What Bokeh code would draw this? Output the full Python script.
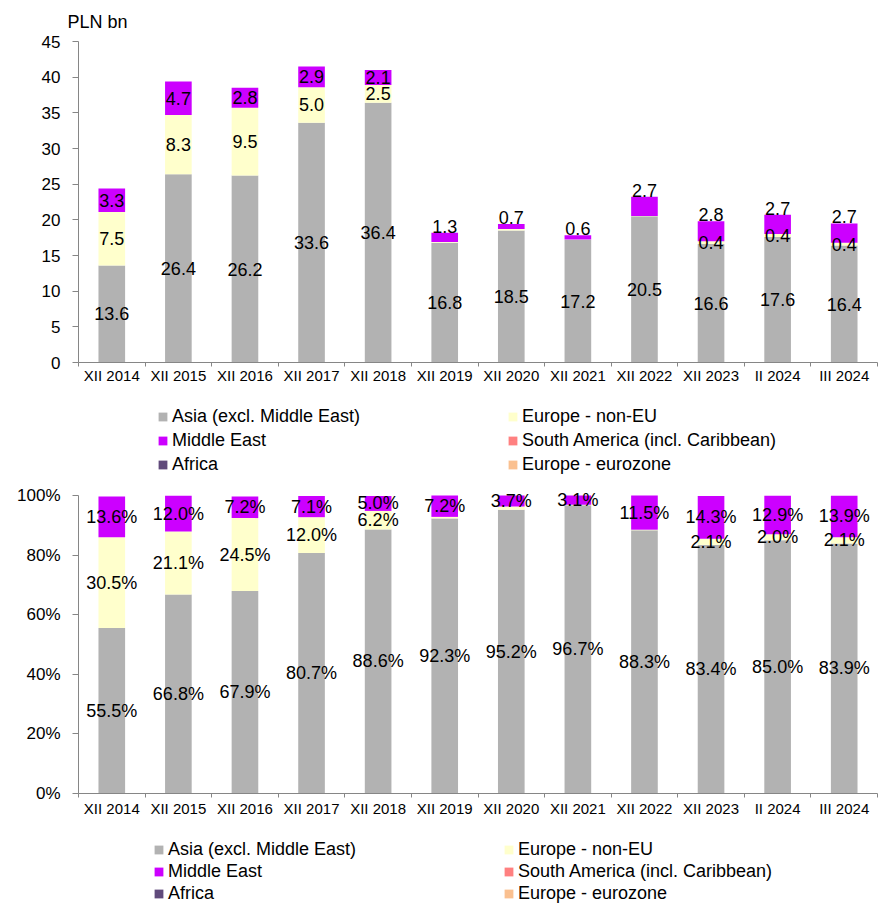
from bokeh.plotting import figure
from bokeh.models import (ColumnDataSource, Range1d, FixedTicker, SingleIntervalTicker,
                          Legend, LegendItem, PrintfTickFormatter)
from bokeh.layouts import column
from bokeh.embed import file_html
from bokeh.resources import INLINE
from bokeh.core.properties import value

# ---------------- data ----------------
categories = ["XII 2014", "XII 2015", "XII 2016", "XII 2017", "XII 2018", "XII 2019",
              "XII 2020", "XII 2021", "XII 2022", "XII 2023", "II 2024", "III 2024"]

series_names = ["Asia (excl. Middle East)", "Europe - non-EU", "Middle East",
                "South America (incl. Caribbean)", "Africa", "Europe - eurozone"]
series_colors = ["#b2b2b2", "#ffffcc", "#cc00ff", "#ff8080", "#604a7b", "#fac090"]

# PLN bn
asia_bn = [13.6, 26.4, 26.2, 33.6, 36.4, 16.8, 18.5, 17.2, 20.5, 16.6, 17.6, 16.4]
eu_non_bn = [7.5, 8.3, 9.5, 5.0, 2.5, 0.1, 0.2, 0.04, 0.04, 0.4, 0.4, 0.4]
me_bn = [3.3, 4.7, 2.8, 2.9, 2.1, 1.3, 0.7, 0.6, 2.7, 2.8, 2.7, 2.7]
sa_bn = [0, 0, 0, 0, 0, 0, 0, 0, 0, 0, 0, 0]
africa_bn = [0, 0, 0, 0, 0, 0, 0, 0, 0, 0, 0, 0]
euro_bn = [0, 0, 0, 0, 0, 0, 0, 0, 0, 0, 0, 0]

# shares, %
asia_pct = [55.5, 66.8, 67.9, 80.7, 88.6, 92.3, 95.2, 96.7, 88.3, 83.4, 85.0, 83.9]
eu_non_pct = [30.5, 21.1, 24.5, 12.0, 6.2, 0.5, 1.1, 0.2, 0.2, 2.1, 2.0, 2.1]
me_pct = [13.6, 12.0, 7.2, 7.1, 5.0, 7.2, 3.7, 3.1, 11.5, 14.3, 12.9, 13.9]
sa_pct = [0, 0, 0, 0, 0, 0, 0, 0, 0, 0, 0, 0]
africa_pct = [0, 0, 0, 0, 0, 0, 0, 0, 0, 0, 0, 0]
euro_pct = [0, 0, 0, 0, 0, 0, 0, 0, 0, 0, 0, 0]

bn_series = [asia_bn, eu_non_bn, me_bn, sa_bn, africa_bn, euro_bn]
pct_series = [asia_pct, eu_non_pct, me_pct, sa_pct, africa_pct, euro_pct]

# which Middle East labels (top chart) sit above the bar rather than inside
me_label_above = [False] * 5 + [True] * 7

FONT = "Liberation Sans"
AXIS_COLOR = "#868686"
FIG_W = 880
N = len(categories)
XS = [i + 0.5 for i in range(N)]


def stack_source(series):
    keys = ["s%d" % k for k in range(len(series))]
    data = {"x": XS}
    for k, s in zip(keys, series):
        data[k] = s
    return keys, ColumnDataSource(data)


def build(series, ymax, ytop, interval, tick_fmt, lab_fmt, min_lab, above, border_top,
          frame_h, border_bottom, std_x, title=None):
    keys, src = stack_source(series)

    p = figure(width=FIG_W, height=border_top + frame_h + border_bottom,
               frame_width=799, frame_height=frame_h,
               min_border_left=78, min_border_right=FIG_W - 78 - 799,
               min_border_top=border_top, min_border_bottom=border_bottom,
               x_range=Range1d(0, N), y_range=Range1d(0, ytop),
               output_backend="svg", toolbar_location=None)
    p.outline_line_color = None
    p.xgrid.visible = False
    p.ygrid.visible = False
    p.background_fill_color = "white"
    if title:
        p.title.text = title
        p.title.align = "left"
        p.title.offset = -11
        p.title.text_font = FONT
        p.title.text_font_size = "18px"
        p.title.text_font_style = "normal"
        p.title.text_color = "black"
        p.title.standoff = 19

    p.vbar_stack(keys, x="x", width=0.4, color=series_colors, line_color=None, source=src)

    # data labels
    lx, ly, lt = [], [], []
    ax, ay, at = [], [], []
    for i in range(N):
        base = 0.0
        total = sum(s[i] for s in series)
        for j, s in enumerate(series[:3]):
            v = s[i]
            if v >= min_lab:
                if j == 2 and above is not None and above[i]:
                    ax.append(XS[i]); ay.append(total); at.append(lab_fmt % v)
                else:
                    lx.append(XS[i]); ly.append(base + v / 2.0); lt.append(lab_fmt % v)
            base += v
    p.text(x="x", y="y", text="t", source=ColumnDataSource(dict(x=lx, y=ly, t=lt)),
           text_align="center", text_baseline="middle", text_font=value(FONT),
           text_font_size="18px", text_color="black")
    if ax:
        p.text(x="x", y="y", text="t", source=ColumnDataSource(dict(x=ax, y=ay, t=at)),
               text_align="center", text_baseline="bottom", text_font=value(FONT),
               text_font_size="18px", text_color="black")

    # x axis: labels at category centres, tick marks at category boundaries
    xa = p.xaxis[0]
    xa.ticker = FixedTicker(ticks=XS, minor_ticks=list(range(N + 1)))
    xa.major_label_overrides = {x: c for x, c in zip(XS, categories)}
    xa.major_tick_in = 0
    xa.major_tick_out = 0
    xa.minor_tick_in = 0
    xa.minor_tick_out = 4
    xa.minor_tick_line_color = AXIS_COLOR
    xa.axis_line_color = AXIS_COLOR
    xa.major_label_text_font = FONT
    xa.major_label_text_font_size = "15px"
    xa.major_label_text_color = "black"
    xa.major_label_standoff = std_x

    ya = p.yaxis[0]
    ya.ticker = SingleIntervalTicker(interval=interval, num_minor_ticks=0)
    ya.bounds = (0, ymax)
    if tick_fmt is not None:
        ya.formatter = tick_fmt
    ya.major_tick_in = 0
    ya.major_tick_out = 6
    ya.major_tick_line_color = AXIS_COLOR
    ya.minor_tick_line_color = None
    ya.axis_line_color = AXIS_COLOR
    ya.major_label_text_font = FONT
    ya.major_label_text_font_size = "17px"
    ya.major_label_text_color = "black"
    ya.major_label_standoff = 12
    return p


def legend_fig(series, height, c1x, c2x, ybottom, spacing):
    # the stacks are drawn here only to give the legend its swatches; the y range
    # lies far above them, so nothing of them shows
    keys, src = stack_source(series)
    lf = figure(width=FIG_W, height=height, min_border=0, x_range=Range1d(0, N),
                y_range=Range1d(1000, 1001), x_axis_location=None, y_axis_location=None,
                output_backend="svg", toolbar_location=None)
    lf.outline_line_color = None
    lf.xgrid.visible = False
    lf.ygrid.visible = False
    rs = lf.vbar_stack(keys, x="x", width=0.4, color=series_colors, line_color=None,
                       source=src)
    for idxs, lx0 in (((0, 2, 4), c1x), ((1, 3, 5), c2x)):
        leg = Legend(items=[LegendItem(label=series_names[k], renderers=[rs[k]]) for k in idxs],
                     location=(lx0, ybottom), orientation="vertical")
        leg.glyph_width = 11
        leg.glyph_height = 11
        leg.label_standoff = 4
        leg.label_height = 20
        leg.spacing = spacing
        leg.padding = 0
        leg.margin = 0
        leg.border_line_color = None
        leg.background_fill_alpha = 0
        leg.label_text_font = FONT
        leg.label_text_font_size = "18px"
        leg.label_text_color = "black"
        lf.add_layout(leg)
    return lf


p1 = build(bn_series, 45, 45, 5, None, "%.1f", 0.3, me_label_above, 40, 321, 35, 0,
           title="PLN bn")
l1 = legend_fig(bn_series, 82, 79, 429, 4, 3)

p2 = build(pct_series, 100, 104, 20, PrintfTickFormatter(format="%d%%"), "%.1f%%", 1.5,
           None, 4, 310, 35, 2)
l2 = legend_fig(pct_series, 77, 75, 425, 1, 1)

layout = column(p1, l1, p2, l2, spacing=0)
open("out.html", "w").write(file_html(layout, INLINE))
